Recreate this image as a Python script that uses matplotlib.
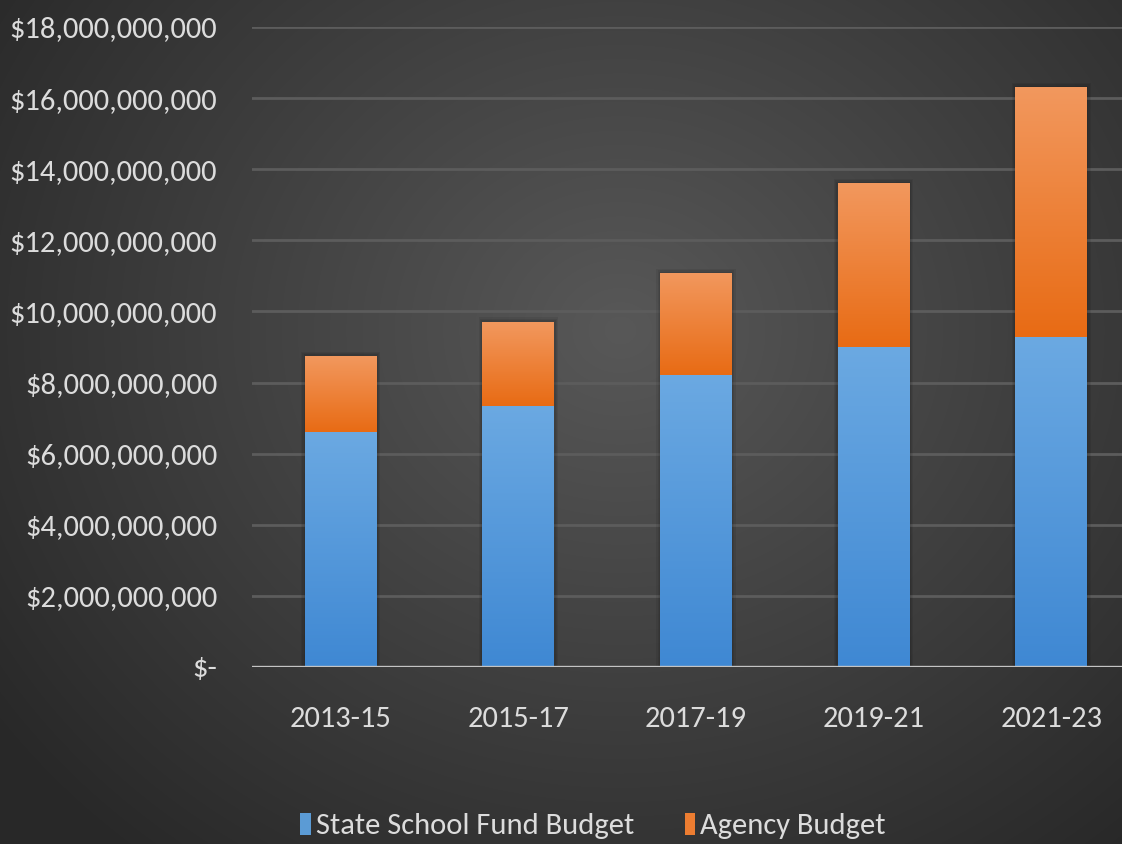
import numpy as np
import matplotlib
matplotlib.use('Agg')
import matplotlib.pyplot as plt
from matplotlib.colors import LinearSegmentedColormap

plt.rcParams['font.family'] = ['Carlito', 'DejaVu Sans']

# data (dollars)
periods = ['2013-15', '2015-17', '2017-19', '2019-21', '2021-23']
state_school_fund = [6.62e9, 7.35e9, 8.21e9, 9.0e9, 9.28e9]
agency = [2.13e9, 2.36e9, 2.87e9, 4.61e9, 7.03e9]
yticks = np.arange(0, 18e9 + 1, 2e9)

txt = '#dcdcdc'

fig = plt.figure(figsize=(11.22, 8.44), dpi=100)

# radial gradient background
bg = fig.add_axes([0, 0, 1, 1], zorder=0)
yy, xx = np.mgrid[0:844, 0:1122]
r = np.sqrt(((xx - 620) / 700.0) ** 2 + ((yy - 330) / 620.0) ** 2)
shade = np.clip(0.345 - 0.17 * r, 0.16, 0.36)
bg.imshow(np.dstack([shade] * 3), aspect='auto', extent=[0, 1, 0, 1])
bg.axis('off')

ax = fig.add_axes([252 / 1122, 1 - 667 / 844, 888 / 1122, 640 / 844], zorder=1)
ax.patch.set_alpha(0)

x = np.arange(len(periods))
w = 0.405
totals = np.array(state_school_fund) + np.array(agency)
# soft dark glow behind the bars
for k in (1, 2, 3):
    ax.bar(x, totals + 0.04e9 * k, w + 0.014 * k, color='black', alpha=0.07, zorder=2.5)
b1 = ax.bar(x, state_school_fund, w, color='#5b9bd5', zorder=3)
b2 = ax.bar(x, agency, w, bottom=state_school_fund, color='#ed7d31', zorder=3)

# vertical gradients inside the bars
blue_cm = LinearSegmentedColormap.from_list('b', ['#3f88d3', '#6ba9e2'])
orange_cm = LinearSegmentedColormap.from_list('o', ['#e86b14', '#f2985e'])
grad = np.linspace(0, 1, 256).reshape(-1, 1)
for bars, cm in ((b1, blue_cm), (b2, orange_cm)):
    for p in bars:
        x0, y0 = p.get_x(), p.get_y()
        im = ax.imshow(grad, cmap=cm, aspect='auto', origin='lower',
                       extent=[x0, x0 + p.get_width(), y0, y0 + p.get_height()],
                       zorder=3.5)
        im.set_clip_path(p)

ax.set_xlim(-0.5, 4.5)
ax.set_ylim(0, 18e9)
ax.set_yticks(yticks)
ax.set_yticklabels(['$-'] + ['${:,.0f}'.format(v) for v in yticks[1:]])
ax.set_xticks(x)
ax.set_xticklabels(periods)
ax.grid(axis='y', color='#5c5c5c', linewidth=2.0, zorder=1)
ax.axhline(0, color='#c4c4c4', linewidth=2.4, zorder=4)
for s in ax.spines.values():
    s.set_visible(False)
ax.tick_params(length=0, colors=txt)
ax.tick_params(axis='y', labelsize=22, pad=25)
ax.tick_params(axis='x', labelsize=22, pad=28)

leg = fig.legend([b1, b2], ['State School Fund Budget', 'Agency Budget'],
                 loc='center', bbox_to_anchor=(593 / 1122, 1 - 826 / 844),
                 ncol=2, frameon=False, fontsize=22, labelcolor=txt,
                 handlelength=0.35, handleheight=0.75, handletextpad=0.15,
                 columnspacing=1.66)

fig.savefig('out.png', dpi=100)
